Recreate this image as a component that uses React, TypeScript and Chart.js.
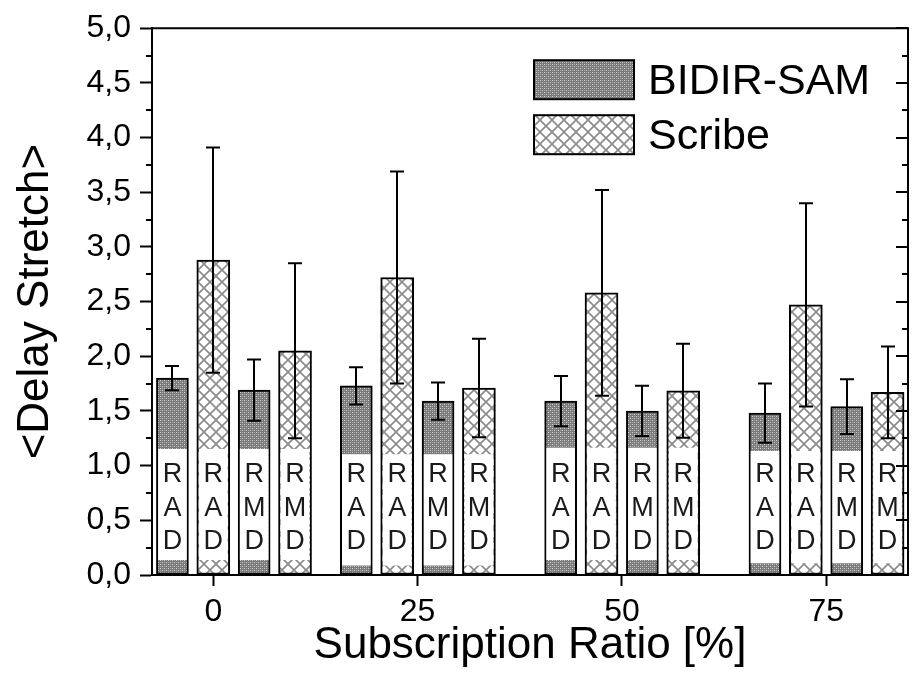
import React, { useEffect, useRef } from "react";
import { Chart, registerables } from "chart.js";

Chart.register(...registerables);

// ---- data ----
const ratioTicks = [0, 25, 50, 75];
const ratioTickLabels = ["0", "25", "50", "75"];
const stretchTicks = [0, 0.5, 1, 1.5, 2, 2.5, 3, 3.5, 4, 4.5, 5];
const stretchTickLabels = ["0,0", "0,5", "1,0", "1,5", "2,0", "2,5", "3,0", "3,5", "4,0", "4,5", "5,0"];
const stretchMinorTicks = [0.25, 0.75, 1.25, 1.75, 2.25, 2.75, 3.25, 3.75, 4.25, 4.75];

const seriesNames = ["BIDIR-SAM", "Scribe"];

// bar positions (x in %) for each of the four bars of a group
const radBidirX = [-5, 17.5, 42.5, 67.5];
const radScribeX = [0, 22.5, 47.5, 72.5];
const rmdBidirX = [5, 27.5, 52.5, 77.5];
const rmdScribeX = [10, 32.5, 57.5, 82.5];

// mean delay stretch
const radBidir = [1.8, 1.73, 1.59, 1.48];
const radScribe = [2.88, 2.72, 2.58, 2.47];
const rmdBidir = [1.69, 1.59, 1.5, 1.54];
const rmdScribe = [2.05, 1.71, 1.685, 1.67];

// error (half-width)
const radBidirErr = [0.11, 0.17, 0.23, 0.27];
const radScribeErr = [1.03, 0.97, 0.94, 0.93];
const rmdBidirErr = [0.28, 0.17, 0.23, 0.25];
const rmdScribeErr = [0.8, 0.45, 0.43, 0.42];

// white label box range per group
const labelBoxLow = [0.14, 0.09, 0.14, 0.11];
const labelBoxHigh = [1.15, 1.1, 1.16, 1.13];

const radLabel = ["R", "A", "D"];
const rmdLabel = ["R", "M", "D"];

const FONT = "'Liberation Sans', Arial, Helvetica, sans-serif";

function makeBidirPattern(ctx: CanvasRenderingContext2D) {
  const c = document.createElement("canvas");
  c.width = 4;
  c.height = 4;
  const g = c.getContext("2d")!;
  g.fillStyle = "#7a7a7a";
  g.fillRect(0, 0, 4, 4);
  g.fillStyle = "#d2d2d2";
  g.fillRect(0, 0, 1, 1);
  g.fillRect(2, 2, 1, 1);
  g.fillStyle = "#a6a6a6";
  g.fillRect(2, 0, 1, 1);
  g.fillRect(0, 2, 1, 1);
  return ctx.createPattern(c, "repeat")!;
}

function makeScribePattern(ctx: CanvasRenderingContext2D) {
  const s = 12;
  const c = document.createElement("canvas");
  c.width = s;
  c.height = s;
  const g = c.getContext("2d")!;
  g.fillStyle = "#ffffff";
  g.fillRect(0, 0, s, s);
  g.strokeStyle = "#8a8a8a";
  g.lineWidth = 1.6;
  g.beginPath();
  g.moveTo(-1, -1);
  g.lineTo(s + 1, s + 1);
  g.moveTo(-1, s + 1);
  g.lineTo(s + 1, -1);
  g.stroke();
  return ctx.createPattern(c, "repeat")!;
}

export default function App() {
  const canvasRef = useRef<HTMLCanvasElement | null>(null);

  useEffect(() => {
    const canvas = canvasRef.current!;
    const ctx = canvas.getContext("2d")!;
    const bidirPat = makeBidirPattern(ctx);
    const scribePat = makeScribePattern(ctx);

    const bidirData = [
      ...radBidirX.map((x, i) => ({ x, y: radBidir[i] })),
      ...rmdBidirX.map((x, i) => ({ x, y: rmdBidir[i] })),
    ];
    const scribeData = [
      ...radScribeX.map((x, i) => ({ x, y: radScribe[i] })),
      ...rmdScribeX.map((x, i) => ({ x, y: rmdScribe[i] })),
    ];
    const allX = [radBidirX, radScribeX, rmdBidirX, rmdScribeX];
    const boxData = allX.flatMap((xs) =>
      xs.map((x, g) => ({ x, y: [labelBoxLow[g], labelBoxHigh[g]] }))
    );

    const errorSets = [
      { xs: radBidirX, ys: radBidir, es: radBidirErr },
      { xs: radScribeX, ys: radScribe, es: radScribeErr },
      { xs: rmdBidirX, ys: rmdBidir, es: rmdBidirErr },
      { xs: rmdScribeX, ys: rmdScribe, es: rmdScribeErr },
    ];
    const letterSets = [
      { xs: radBidirX, letters: radLabel },
      { xs: radScribeX, letters: radLabel },
      { xs: rmdBidirX, letters: rmdLabel },
      { xs: rmdScribeX, letters: rmdLabel },
    ];

    const overlayPlugin = {
      id: "overlay",
      afterDatasetsDraw(chart: any) {
        const c = chart.ctx;
        const xs = chart.scales.x;
        const ys = chart.scales.y;
        c.save();
        // letters in label boxes
        c.fillStyle = "#1a1a1a";
        c.font = `27px ${FONT}`;
        c.textAlign = "center";
        c.textBaseline = "middle";
        const letterPos = [0.92, 0.61, 0.31];
        letterSets.forEach((set) => {
          set.xs.forEach((x) => {
            const px = xs.getPixelForValue(x);
            set.letters.forEach((l, k) => {
              c.fillText(l, px, ys.getPixelForValue(letterPos[k]));
            });
          });
        });
        // error bars
        c.strokeStyle = "#000";
        c.lineWidth = 2;
        errorSets.forEach((set) => {
          set.xs.forEach((x, i) => {
            const px = Math.round(xs.getPixelForValue(x));
            const top = ys.getPixelForValue(set.ys[i] + set.es[i]);
            const bot = ys.getPixelForValue(set.ys[i] - set.es[i]);
            c.beginPath();
            c.moveTo(px, top);
            c.lineTo(px, bot);
            c.moveTo(px - 7, top);
            c.lineTo(px + 7, top);
            c.moveTo(px - 7, bot);
            c.lineTo(px + 7, bot);
            c.stroke();
          });
        });
        c.restore();
      },
      afterDraw(chart: any) {
        const c = chart.ctx;
        const a = chart.chartArea;
        const ys = chart.scales.y;
        c.save();
        c.strokeStyle = "#000";
        c.lineWidth = 2;
        // frame top & right
        c.beginPath();
        c.moveTo(a.left, a.top);
        c.lineTo(a.right, a.top);
        c.lineTo(a.right, a.bottom);
        c.stroke();
        // minor ticks left (outward) and right (inward)
        c.beginPath();
        stretchMinorTicks.forEach((v) => {
          const py = Math.round(ys.getPixelForValue(v));
          c.moveTo(a.left - 6, py);
          c.lineTo(a.left, py);
          c.moveTo(a.right - 6, py);
          c.lineTo(a.right, py);
        });
        stretchTicks.forEach((v) => {
          const py = Math.round(ys.getPixelForValue(v));
          c.moveTo(a.right - 12, py);
          c.lineTo(a.right, py);
        });
        c.stroke();
        // legend
        const pats = [bidirPat, scribePat];
        const boxL = a.right - 374;
        const boxW = 100;
        const boxH = 39;
        const tops = [a.top + 32, a.top + 87];
        c.font = `43px ${FONT}`;
        c.textAlign = "left";
        c.textBaseline = "middle";
        seriesNames.forEach((name, i) => {
          c.fillStyle = pats[i];
          c.fillRect(boxL, tops[i], boxW, boxH);
          c.strokeStyle = "#000";
          c.lineWidth = 2;
          c.strokeRect(boxL, tops[i], boxW, boxH);
          c.fillStyle = "#000";
          c.fillText(name, boxL + boxW + 14, tops[i] + boxH / 2 + 2);
        });
        c.restore();
      },
    };

    const chart = new Chart(ctx, {
      type: "bar",
      data: {
        datasets: [
          {
            label: "labels",
            data: boxData as any,
            backgroundColor: "#ffffff",
            borderWidth: 0,
            barThickness: 28,
            grouped: false,
            order: 0,
          } as any,
          {
            label: seriesNames[0],
            data: bidirData as any,
            backgroundColor: bidirPat as any,
            borderColor: "#000",
            borderWidth: 2,
            borderSkipped: false,
            barThickness: 32,
            grouped: false,
            order: 1,
          } as any,
          {
            label: seriesNames[1],
            data: scribeData as any,
            backgroundColor: scribePat as any,
            borderColor: "#000",
            borderWidth: 2,
            borderSkipped: false,
            barThickness: 33,
            grouped: false,
            order: 2,
          } as any,
        ],
      },
      options: {
        animation: false,
        responsive: true,
        maintainAspectRatio: false,
        layout: { padding: { top: 21, right: 4, left: 0, bottom: 0 } },
        plugins: {
          legend: { display: false },
          tooltip: { enabled: false },
        },
        scales: {
          x: {
            type: "linear",
            offset: false,
            min: -7.5,
            max: 85,
            afterBuildTicks: (s: any) => {
              s.ticks = ratioTicks.map((v) => ({ value: v }));
            },
            afterFit: (s: any) => {
              s.height = 102;
            },
            grid: {
              offset: false,
              drawOnChartArea: false,
              drawTicks: true,
              tickLength: 11,
              tickWidth: 2,
              tickColor: "#000",
            },
            border: { display: true, color: "#000", width: 2 },
            ticks: {
              color: "#000",
              font: { family: FONT, size: 32 },
              padding: 7,
              maxRotation: 0,
              callback: (_v: any, i: number) => ratioTickLabels[i],
            },
            title: {
              display: true,
              text: "Subscription Ratio [%]",
              color: "#000",
              font: { family: FONT, size: 44 },
              padding: { top: 0, bottom: 5 },
            },
          },
          y: {
            type: "linear",
            min: 0,
            max: 5,
            afterBuildTicks: (s: any) => {
              s.ticks = stretchTicks.map((v) => ({ value: v }));
            },
            afterFit: (s: any) => {
              s.width = 152;
            },
            grid: {
              drawOnChartArea: false,
              drawTicks: true,
              tickLength: 12,
              tickWidth: 2,
              tickColor: "#000",
            },
            border: { display: true, color: "#000", width: 2 },
            ticks: {
              color: "#000",
              font: { family: FONT, size: 32 },
              padding: 9,
              callback: (_v: any, i: number) => stretchTickLabels[i],
            },
            title: {
              display: true,
              text: "<Delay Stretch>",
              color: "#000",
              font: { family: FONT, size: 44 },
              padding: { top: 9, bottom: 0 },
            },
          },
        },
      },
      plugins: [overlayPlugin],
    } as any);

    return () => chart.destroy();
  }, []);

  return (
    <div
      style={{
        position: "fixed",
        left: 0,
        top: 0,
        width: 912,
        height: 677,
        background: "#fff",
      }}
    >
      <canvas ref={canvasRef} />
    </div>
  );
}
